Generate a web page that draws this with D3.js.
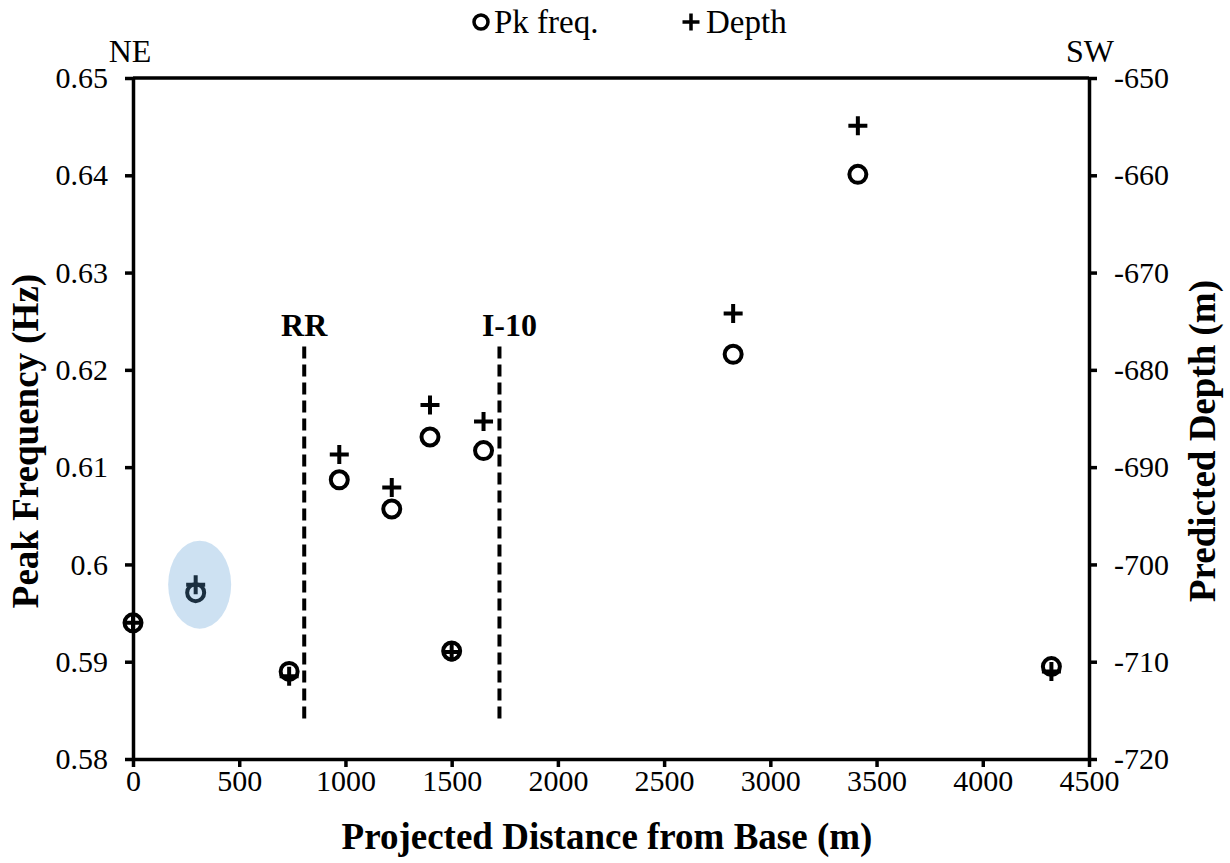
<!DOCTYPE html>
<html>
<head>
<meta charset="utf-8">
<script src="https://cdn.jsdelivr.net/npm/d3@7"></script>
<style>
  html, body { margin: 0; padding: 0; background: #fff; }
  svg { display: block; font-family: "Liberation Serif", "Times New Roman", serif; }
</style>
</head>
<body>
<svg id="chart" width="1230" height="863"></svg>
<script>
// ---- data ----
const distance = [0, 295, 735, 971, 1218, 1398, 1500, 1650, 2825, 3412, 4323];
const pkFreq   = [0.5940, 0.5971, 0.5890, 0.6087, 0.6057, 0.6131, 0.5911, 0.6117, 0.6216, 0.6401, 0.5895];
const depth    = [-706.0, -702.1, -711.5, -688.7, -692.1, -683.6, -709.0, -685.3, -674.2, -654.9, -711.0];

const xTicks = [0, 500, 1000, 1500, 2000, 2500, 3000, 3500, 4000, 4500];
const freqTicks = [0.58, 0.59, 0.60, 0.61, 0.62, 0.63, 0.64, 0.65];
const depthTicks = [-720, -710, -700, -690, -680, -670, -660, -650];

// reference lines (distance, freq range) and labels
const refNames = ["RR", "I-10"];
const refDist = [806, 1725];
const refFreqTop = 0.6224;
const refFreqBottom = 0.5838;

// highlighted point (index into the series)
const highlightIndex = 1;

// ---- layout ----
const svg = d3.select("#chart");
const L = 133, R = 1089, T = 78, B = 759;
const FONT = '"Liberation Serif", "Times New Roman", serif';

const x = d3.scaleLinear().domain([0, 4500]).range([L, R]);
const yF = d3.scaleLinear().domain([0.58, 0.65]).range([B, T]);
const yD = d3.scaleLinear().domain([-720, -650]).range([B, T]);

const tickFont = 30;
const axisW = 3.5;

function styleAxis(g) {
  g.attr("font-family", null).attr("font-size", null);
  g.select(".domain").attr("stroke", "#000").attr("stroke-width", axisW);
  g.selectAll(".tick line").attr("stroke", "#000").attr("stroke-width", axisW);
  g.selectAll(".tick text")
    .attr("fill", "#000")
    .style("font-family", FONT)
    .style("font-size", tickFont + "px");
}

// top border
svg.append("line")
  .attr("x1", L).attr("x2", R).attr("y1", T).attr("y2", T)
  .attr("stroke", "#000").attr("stroke-width", axisW);

// bottom axis
const gx = svg.append("g").attr("transform", `translate(0,${B})`)
  .call(d3.axisBottom(x).tickValues(xTicks).tickSize(8).tickSizeOuter(0).tickPadding(3).tickFormat(d3.format("d")));
styleAxis(gx);

// left axis
const gl = svg.append("g").attr("transform", `translate(${L},0)`)
  .call(d3.axisLeft(yF).tickValues(freqTicks).tickSize(8).tickSizeOuter(0).tickPadding(17)
    .tickFormat(d => String(+d.toFixed(2))));
styleAxis(gl);

// right axis
const gr = svg.append("g").attr("transform", `translate(${R},0)`)
  .call(d3.axisRight(yD).tickValues(depthTicks).tickSize(8).tickSizeOuter(0).tickPadding(17)
    .tickFormat(d => String(d)));
styleAxis(gr);

// axis titles
svg.append("text")
  .attr("x", 607).attr("y", 849)
  .attr("text-anchor", "middle")
  .style("font-weight", "bold").style("font-size", "37px")
  .text("Projected Distance from Base (m)");

svg.append("text")
  .attr("transform", "translate(38,441) rotate(-90)")
  .attr("text-anchor", "middle")
  .style("font-weight", "bold").style("font-size", "37px")
  .text("Peak Frequency (Hz)");

svg.append("text")
  .attr("transform", "translate(1215,441) rotate(-90)")
  .attr("text-anchor", "middle")
  .style("font-weight", "bold").style("font-size", "37px")
  .text("Predicted Depth (m)");

// NE / SW
svg.append("text").attr("x", 130).attr("y", 62).attr("text-anchor", "middle")
  .style("font-size", "32px").text("NE");
svg.append("text").attr("x", 1090).attr("y", 62).attr("text-anchor", "middle")
  .style("font-size", "32px").text("SW");

// reference dashed lines
refDist.forEach((d) => {
  svg.append("line")
    .attr("x1", x(d)).attr("x2", x(d))
    .attr("y1", yF(refFreqTop)).attr("y2", yF(refFreqBottom))
    .attr("stroke", "#000").attr("stroke-width", 4)
    .attr("stroke-dasharray", "12,6");
});
svg.append("text").attr("x", x(refDist[0])).attr("y", 336).attr("text-anchor", "middle")
  .style("font-weight", "bold").style("font-size", "32px").text(refNames[0]);
svg.append("text").attr("x", x(refDist[1]) + 10).attr("y", 336).attr("text-anchor", "middle")
  .style("font-weight", "bold").style("font-size", "32px").text(refNames[1]);

// plus symbol path
function plusPath(s) {
  const h = s / 2;
  return `M${-h},0H${h}M0,${-h}V${h}`;
}

// series: circles (Pk freq.)
svg.append("g").selectAll("circle")
  .data(distance.map((d, i) => [d, pkFreq[i]]))
  .join("circle")
  .attr("cx", d => x(d[0])).attr("cy", d => yF(d[1]))
  .attr("r", 8.5)
  .attr("fill", "none").attr("stroke", "#000").attr("stroke-width", 4);

// series: plus (Depth)
svg.append("g").selectAll("path")
  .data(distance.map((d, i) => [d, depth[i]]))
  .join("path")
  .attr("transform", d => `translate(${x(d[0])},${yD(d[1])})`)
  .attr("d", plusPath(19))
  .attr("fill", "none").attr("stroke", "#000").attr("stroke-width", 4);

// highlight ellipse
svg.append("ellipse")
  .attr("cx", x(distance[highlightIndex]) + 4)
  .attr("cy", yF(pkFreq[highlightIndex]) - 8)
  .attr("rx", 31.5).attr("ry", 44)
  .attr("fill", "#5b9bd5").attr("fill-opacity", 0.3);

// legend
const lg = svg.append("g");
lg.append("circle").attr("cx", 481).attr("cy", 22).attr("r", 7)
  .attr("fill", "none").attr("stroke", "#000").attr("stroke-width", 3.5);
lg.append("text").attr("x", 494).attr("y", 33).style("font-size", "33px").text("Pk freq.");
lg.append("path").attr("transform", "translate(691,22)").attr("d", plusPath(17))
  .attr("fill", "none").attr("stroke", "#000").attr("stroke-width", 3.5);
lg.append("text").attr("x", 706).attr("y", 33).style("font-size", "33px").text("Depth");
</script>
</body>
</html>
